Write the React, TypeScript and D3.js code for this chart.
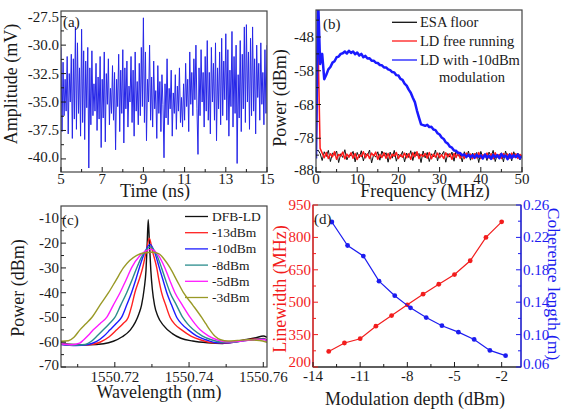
import React, { useEffect, useRef } from 'react';
import * as d3 from 'd3';

const W = 564;
const H = 411;
const FONT = '"Liberation Serif", "Times New Roman", Times, serif';

// ---- (a) time-domain trace ----
const timeStart = 5;
const timeStep = 0.05;
const amplitude = [
  -30.2, -37.6, -31.5, -36.2, -33.0, -35.8, -31.0, -37.8, -32.5, -35.0, -30.8, -38.2, -31.2, -36.5, -28.4, -37.4, -29.8, -36.0, -32.0, -38.0,
  -28.6, -36.8, -30.5, -38.3, -31.4, -35.5, -30.2, -40.8, -32.0, -37.0, -30.5, -36.2, -33.4, -35.8, -31.6, -37.5, -32.8, -36.5, -31.0, -39.0,
  -33.0, -36.4, -30.6, -38.5, -32.5, -35.2, -31.2, -37.0, -33.8, -36.0, -31.8, -36.6, -32.4, -39.2, -33.0, -35.4, -30.8, -37.6, -32.2, -36.0,
  -30.4, -38.6, -32.0, -35.6, -31.4, -37.2, -33.6, -35.0, -31.0, -36.8, -32.2, -38.0, -30.6, -35.8, -33.2, -37.0, -31.6, -36.2, -30.2, -35.4,
  -27.6, -36.8, -30.6, -38.4, -33.0, -35.0, -30.0, -36.6, -32.8, -37.2, -31.4, -35.6, -34.0, -38.2, -31.8, -36.0, -33.2, -37.6, -32.6, -35.2,
  -39.9, -33.4, -36.4, -31.2, -37.0, -33.8, -35.6, -32.2, -38.0, -34.2, -36.0, -32.6, -37.4, -33.6, -35.8, -32.0, -36.8, -34.6, -37.2, -33.4,
  -36.6, -31.6, -35.4, -33.0, -37.6, -30.6, -35.2, -32.4, -36.2, -31.2, -34.8, -30.0, -35.6, -39.6, -32.0, -36.2, -30.4, -35.0, -32.4, -37.2,
  -31.0, -35.8, -29.6, -36.6, -32.4, -37.8, -30.2, -35.0, -31.6, -36.6, -29.8, -38.4, -32.0, -35.6, -30.6, -37.0, -29.4, -36.2, -31.4, -34.8,
  -29.0, -36.6, -30.4, -38.0, -32.2, -35.4, -28.8, -37.2, -31.0, -36.0, -30.0, -40.4, -32.6, -36.4, -29.6, -37.6, -30.8, -35.6, -28.4, -36.8,
  -28.2, -35.0, -30.6, -37.4, -29.4, -36.2, -28.4, -35.8, -31.2, -37.8, -30.0, -34.6, -31.6, -36.6, -29.8, -35.2, -32.4, -37.0, -30.4, -36.0,
  -30.0,
];
const timeTicks = [5, 7, 9, 11, 13, 15];
const timeMinor = [6, 8, 10, 12, 14];
const ampTicks = [-40, -37.5, -35, -32.5, -30, -27.5];
const ampMinor = [-38.75, -36.25, -33.75, -31.25, -28.75];

// ---- (b) RF spectra, one value every 0.5 MHz from 0 MHz ----
const freqStep = 0.5;
const esaFloor = [
  -82.0, -81.5, -82.5,
  -84.6, -82.0, -83.4, -81.6, -84.9, -82.4, -83.0, -81.8, -85.2, -82.6, -83.7, -81.4, -84.4, -82.9, -83.2, -81.9, -85.0, -82.2, -83.8, -81.7,
  -84.7, -82.5, -83.1, -81.5, -85.3, -82.8, -83.6, -82.0, -84.5, -81.8, -83.3, -82.3, -85.1, -82.1, -83.9, -81.6, -84.8, -82.7, -83.4, -81.9,
  -85.0, -82.4, -83.7, -81.7, -84.6, -82.0, -83.2, -82.5, -85.2, -81.8, -83.8, -82.2, -84.9, -82.6, -83.5, -81.5, -84.7, -82.3, -83.0, -81.9,
  -85.1, -82.5, -83.6, -82.1, -84.8, -81.7, -83.3, -82.7, -85.0, -82.0, -83.9, -81.8, -84.5, -82.4, -83.1, -82.2, -85.2, -81.9, -83.7, -82.6,
  -84.6, -82.1, -83.4, -81.6, -84.9, -82.8, -83.2, -82.3, -85.0, -81.8, -83.6, -82.5, -84.7, -82.0, -83.8, -82.4, -84.4, -82.9,
];
const ldFreeRunning = [
  -83.5, -50.0, -81.0, -82.4,
  -83.8, -82.2, -84.0, -82.6, -83.5, -82.0, -84.2, -82.8, -83.3, -82.1, -84.1, -82.7, -83.6, -82.3, -83.9, -82.5, -84.3, -82.9, -83.4, -82.0,
  -83.8, -82.6, -84.0, -82.4, -83.2, -82.1, -84.2, -82.8, -83.7, -82.3, -83.9, -82.5, -84.1, -82.7, -83.3, -82.2, -84.0, -82.9, -83.6, -82.4,
  -83.8, -82.6, -84.2, -82.3, -83.5, -82.0, -84.0, -82.8, -83.4, -82.5, -83.9, -82.2, -84.1, -82.7, -83.6, -82.4, -83.8, -82.9, -84.0, -82.3,
  -83.5, -82.6, -84.2, -82.5, -83.7, -82.1, -83.9, -82.8, -84.0, -82.4, -83.3, -82.7, -84.1, -82.6, -83.8, -82.2, -84.0, -82.9, -83.5, -82.4,
  -83.9, -82.6, -84.1, -82.3, -83.6, -82.8, -84.0, -82.5, -83.4, -82.7, -83.9, -82.4, -83.7, -82.6, -84.0, -82.8, -83.3,
];
const ldModulated = [
  -84.0, -36.0, -56.0, -53.0, -60.5, -59.2, -57.6, -56.9, -55.6, -55.2,
  -54.0, -53.8, -53.0, -52.8, -52.3, -52.9, -52.1, -52.7, -52.3, -53.1,
  -52.6, -53.5, -53.0, -54.0, -53.6, -54.4, -54.3, -55.0, -55.0, -55.6,
  -55.7, -56.3, -56.4, -57.0, -57.0, -57.6, -57.8, -58.4, -58.5, -59.3,
  -59.4, -60.4, -60.7, -61.8, -62.4, -63.6, -64.5, -66.0, -67.3, -69.8,
  -71.9, -73.9, -74.1, -74.3, -74.0, -74.7, -74.6, -75.4, -75.6, -76.5,
  -76.9, -77.8, -78.2, -79.2, -79.6, -80.5, -80.8, -81.6, -81.7, -82.4,
  -82.4, -83.1, -82.8, -83.5, -82.9, -83.6, -83.0, -83.8, -82.9, -83.5,
  -83.1, -84.0, -82.8, -83.7, -83.2, -84.1, -82.9, -83.6, -83.0, -83.9,
  -82.7, -83.5, -83.1, -84.2, -82.9, -83.8, -83.0, -83.6, -82.8, -83.9,
  -83.3,
];
const freqTicks = [0, 10, 20, 30, 40, 50];
const freqMinor = [5, 15, 25, 35, 45];
const rfTicks = [-88, -78, -68, -58, -48];
const rfMinor = [-83, -73, -63, -53, -43];
const legendB = ['ESA floor', 'LD free running', 'LD with -10dBm'];

// ---- (c) optical spectra [wavelength nm, power dBm] ----
const dfbLd = [
  [1550.7055, -60.5], [1550.709, -60.9], [1550.713, -61.0], [1550.717, -60.6], [1550.7196, -59.6], [1550.722, -57.8],
  [1550.7242, -55.0], [1550.7255, -52.0], [1550.7265, -48.5], [1550.7272, -45.0], [1550.7279, -38.5], [1550.7284, -31.0],
  [1550.7287, -21.0], [1550.729, -10.5], [1550.7293, -19.0], [1550.7297, -31.0], [1550.7301, -38.5], [1550.7307, -45.0],
  [1550.7316, -49.5], [1550.7331, -53.2], [1550.7355, -56.5], [1550.7378, -58.4], [1550.741, -59.5], [1550.745, -60.2],
  [1550.749, -60.5], [1550.752, -59.9], [1550.755, -59.0], [1550.758, -58.2], [1550.76, -57.5], [1550.761, -58.0],
];
const mod13 = [
  [1550.7055, -60.8], [1550.7095, -61.2], [1550.713, -61.0], [1550.716, -60.0], [1550.7185, -57.8], [1550.7205, -55.0],
  [1550.7222, -52.5], [1550.7236, -50.0], [1550.7246, -45.0], [1550.7254, -40.0], [1550.7265, -35.0], [1550.7275, -30.0],
  [1550.7285, -23.0], [1550.7293, -18.0], [1550.7301, -23.0], [1550.7313, -30.0], [1550.7319, -35.0], [1550.7326, -40.0],
  [1550.7337, -45.0], [1550.7349, -50.0], [1550.7362, -52.8], [1550.738, -55.0], [1550.7405, -57.5], [1550.743, -59.0],
  [1550.7465, -60.2], [1550.7505, -60.3], [1550.7545, -59.3], [1550.758, -58.7], [1550.7602, -58.5], [1550.761, -59.2],
];
const mod10 = [
  [1550.7055, -60.9], [1550.7095, -61.3], [1550.7125, -61.0], [1550.715, -59.8], [1550.717, -57.6], [1550.7187, -55.0],
  [1550.7203, -52.5], [1550.7218, -50.0], [1550.7232, -45.0], [1550.7245, -40.0], [1550.7256, -35.0], [1550.7266, -30.0],
  [1550.728, -24.0], [1550.7295, -20.5], [1550.7308, -24.0], [1550.732, -30.0], [1550.733, -35.0], [1550.734, -40.0],
  [1550.7353, -45.0], [1550.7367, -50.0], [1550.738, -52.6], [1550.7398, -55.0], [1550.742, -57.4], [1550.7445, -59.0],
  [1550.7475, -60.2], [1550.751, -60.2], [1550.7545, -59.4], [1550.758, -58.9], [1550.7602, -58.7], [1550.761, -59.4],
];
const mod8 = [
  [1550.7055, -60.7], [1550.709, -61.2], [1550.712, -60.9], [1550.7135, -59.8], [1550.7152, -57.5], [1550.7169, -55.0],
  [1550.7185, -52.5], [1550.72, -50.0], [1550.7216, -45.0], [1550.7232, -40.0], [1550.7246, -35.0], [1550.7259, -30.0],
  [1550.7276, -24.5], [1550.7297, -21.5], [1550.7312, -24.5], [1550.7326, -30.0], [1550.7337, -35.0], [1550.7349, -40.0],
  [1550.7366, -45.0], [1550.7383, -50.0], [1550.7396, -52.6], [1550.7412, -55.0], [1550.7435, -57.4], [1550.746, -59.0],
  [1550.749, -60.0], [1550.752, -60.0], [1550.755, -59.3], [1550.7585, -58.9], [1550.7603, -58.8], [1550.761, -59.5],
];
const mod5 = [
  [1550.7055, -60.6], [1550.7085, -61.0], [1550.7105, -60.4], [1550.7115, -59.2], [1550.7128, -57.3], [1550.7142, -55.0],
  [1550.716, -52.5], [1550.7178, -50.0], [1550.7196, -45.0], [1550.7214, -40.0], [1550.723, -35.0], [1550.7245, -30.0],
  [1550.7268, -25.0], [1550.7298, -22.5], [1550.7318, -25.0], [1550.7335, -30.0], [1550.7348, -35.0], [1550.7362, -40.0],
  [1550.7382, -45.0], [1550.7403, -50.0], [1550.7416, -52.6], [1550.743, -55.0], [1550.7452, -57.4], [1550.7475, -59.0],
  [1550.75, -59.8], [1550.753, -59.7], [1550.756, -59.2], [1550.759, -59.0], [1550.7605, -59.0], [1550.761, -59.6],
];
const mod3 = [
  [1550.7055, -59.6], [1550.7075, -59.4], [1550.709, -58.0], [1550.7106, -55.0], [1550.7122, -52.5], [1550.7138, -50.0],
  [1550.716, -45.0], [1550.7183, -40.0], [1550.7203, -35.0], [1550.7223, -30.0], [1550.724, -27.0], [1550.7258, -25.0],
  [1550.728, -23.9], [1550.73, -23.7], [1550.7318, -24.2], [1550.7333, -26.5], [1550.7349, -30.0], [1550.7367, -35.0],
  [1550.7385, -40.0], [1550.741, -45.0], [1550.7434, -50.0], [1550.7445, -52.5], [1550.7456, -55.0], [1550.747, -57.6],
  [1550.7485, -59.0], [1550.7505, -59.5], [1550.753, -59.3], [1550.756, -59.0], [1550.759, -59.3], [1550.761, -60.0],
];
const legendC = ['DFB-LD', '-13dBm', '-10dBm', '-8dBm', '-5dBm', '-3dBm'];
const colorsC = ['#111111', '#ff2020', '#1c1cff', '#2a8c8c', '#ff1aff', '#999926'];
const waveTicks = [1550.72, 1550.74, 1550.76];
const waveMinor = [1550.71, 1550.73, 1550.75];
const powTicks = [-70, -60, -50, -40, -30, -20, -10];
const powMinor = [-65, -55, -45, -35, -25, -15];

// ---- (d) linewidth and coherence length ----
const depthLw = [-13, -12, -11, -10, -9, -8, -7, -6, -5, -4, -3, -2];
const linewidth = [272, 311, 331, 389, 438, 488, 537, 583, 628, 692, 800, 872];
const depthCoh = [-12.8, -11.8, -10.8, -9.8, -8.8, -7.8, -6.8, -5.8, -4.75, -3.75, -2.75, -1.75];
const coherence = [0.239, 0.21, 0.197, 0.166, 0.148, 0.133, 0.121, 0.111, 0.103, 0.094, 0.0805, 0.074];
const depthTicks = [-14, -11, -8, -5, -2];
const depthMinor = [-12.5, -9.5, -6.5, -3.5];
const lwTicks = [200, 350, 500, 650, 800, 950];
const lwMinor = [275, 425, 575, 725, 875];
const cohTicks = [0.06, 0.1, 0.14, 0.18, 0.22, 0.26];
const cohMinor = [0.08, 0.12, 0.16, 0.2, 0.24];

const RED = '#f21d1d';
const BLUE = '#1c1cf0';
const INK = '#1a1a1a';

export default function App() {
  const svgRef = useRef(null);

  useEffect(() => {
    if (!svgRef.current) return;
    const svg = d3.select(svgRef.current);
    svg.selectAll('*').remove();
    const defs = svg.append('defs');

    const boxA = { l: 61, t: 11, r: 267, b: 172 };
    const boxB = { l: 316, t: 10, r: 522, b: 172 };
    const boxC = { l: 61, t: 206, r: 267, b: 367 };
    const boxD = { l: 313, t: 205, r: 521, b: 367 };

    const clip = (id, box) => {
      defs.append('clipPath').attr('id', id).append('rect')
        .attr('x', box.l).attr('y', box.t).attr('width', box.r - box.l).attr('height', box.b - box.t);
    };

    const frame = (box, stroke = '#444') => {
      svg.append('rect')
        .attr('x', box.l).attr('y', box.t)
        .attr('width', box.r - box.l).attr('height', box.b - box.t)
        .attr('fill', 'none').attr('stroke', stroke).attr('stroke-width', 1.2);
    };

    const bottomTicks = (x, box, major, minor, fmt, dy = 13) => {
      const g = svg.append('g');
      major.forEach((v) => {
        g.append('line').attr('x1', x(v)).attr('x2', x(v)).attr('y1', box.b).attr('y2', box.b - 5)
          .attr('stroke', INK).attr('stroke-width', 1);
        g.append('text').attr('x', x(v)).attr('y', box.b + dy)
          .attr('text-anchor', 'middle').attr('font-size', 15).attr('fill', INK).text(fmt(v));
      });
      minor.forEach((v) => {
        g.append('line').attr('x1', x(v)).attr('x2', x(v)).attr('y1', box.b).attr('y2', box.b - 3)
          .attr('stroke', INK).attr('stroke-width', 1);
      });
    };

    const sideTicks = (y, box, side, major, minor, fmt, color = INK, lift = 2) => {
      const g = svg.append('g');
      const x0 = side === 'left' ? box.l : box.r;
      const dir = side === 'left' ? 1 : -1;
      major.forEach((v, i) => {
        g.append('line').attr('x1', x0).attr('x2', x0 + dir * 5).attr('y1', y(v)).attr('y2', y(v))
          .attr('stroke', color).attr('stroke-width', 1);
        // lowest label sits a touch higher so it clears the x tick labels
        const up = i === 0 ? lift : 0;
        g.append('text')
          .attr('x', side === 'left' ? x0 - 2 : x0 + 2)
          .attr('y', y(v) + 5 - up)
          .attr('text-anchor', side === 'left' ? 'end' : 'start')
          .attr('font-size', 15).attr('fill', color).text(fmt(v));
      });
      minor.forEach((v) => {
        g.append('line').attr('x1', x0).attr('x2', x0 + dir * 3).attr('y1', y(v)).attr('y2', y(v))
          .attr('stroke', color).attr('stroke-width', 1);
      });
    };

    const title = (text, x, y, rotate = 0, color = INK, size = 18) => {
      svg.append('text')
        .attr('transform', `translate(${x}, ${y}) rotate(${rotate})`)
        .attr('text-anchor', 'middle').attr('font-size', size).attr('fill', color).text(text);
    };

    const tag = (text, x, y) => {
      svg.append('text').attr('x', x).attr('y', y).attr('font-size', 15).attr('fill', INK).text(text);
    };

    // ===== (a) =====
    const xA = d3.scaleLinear().domain([5, 15]).range([boxA.l, boxA.r]);
    const yA = d3.scaleLinear().domain([-41.15, -27.0]).range([boxA.b, boxA.t]);
    clip('clipA', boxA);
    svg.append('path')
      .datum(amplitude)
      .attr('clip-path', 'url(#clipA)')
      .attr('fill', 'none').attr('stroke', '#2626e8').attr('stroke-width', 1)
      .attr('d', d3.line().x((d, i) => xA(timeStart + i * timeStep)).y((d) => yA(d)));
    frame(boxA);
    bottomTicks(xA, boxA, timeTicks, timeMinor, (v) => String(v), 12);
    sideTicks(yA, boxA, 'left', ampTicks, ampMinor, (v) => v.toFixed(1));
    title('Amplitude (mV)', 17, 84, -90);
    title('Time (ns)', 155, 197);
    tag('(a)', 63, 27);

    // ===== (b) =====
    const xB = d3.scaleLinear().domain([0, 50]).range([boxB.l, boxB.r]);
    const yB = d3.scaleLinear().domain([-88, -40]).range([boxB.b, boxB.t]);
    clip('clipB', boxB);
    const lineB = d3.line().x((d, i) => xB(i * freqStep)).y((d) => yB(d));
    [
      { data: esaFloor, color: '#111111', w: 1 },
      { data: ldFreeRunning, color: '#ff1a1a', w: 1.5 },
      { data: ldModulated, color: '#1a1aff', w: 2.5 },
    ].forEach((s) => {
      svg.append('path').datum(s.data)
        .attr('clip-path', 'url(#clipB)')
        .attr('fill', 'none').attr('stroke', s.color).attr('stroke-width', s.w)
        .attr('stroke-linejoin', 'round')
        .attr('d', lineB);
    });
    frame(boxB);
    bottomTicks(xB, boxB, freqTicks, freqMinor, (v) => String(v), 12);
    sideTicks(yB, boxB, 'left', rfTicks, rfMinor, (v) => String(v));
    title('Power (dBm)', 286, 98, -90);
    title('Frequency (MHz)', 425, 197);
    tag('(b)', 323, 29);
    const legB = svg.append('g');
    const legBColors = ['#111111', '#ff1a1a', '#1a1aff'];
    const legBRows = [22.3, 41, 60];
    legendB.forEach((name, i) => {
      legB.append('line').attr('x1', 392).attr('x2', 417).attr('y1', legBRows[i]).attr('y2', legBRows[i])
        .attr('stroke', legBColors[i]).attr('stroke-width', 1.3);
      legB.append('text').attr('x', 420).attr('y', legBRows[i] + 5)
        .attr('font-size', 14.5).attr('fill', INK).text(name);
    });
    legB.append('text').attr('x', 439).attr('y', 82).attr('font-size', 14.5).attr('fill', INK).text('modulation');

    // ===== (c) =====
    const xC = d3.scaleLinear().domain([1550.7055, 1550.761]).range([boxC.l, boxC.r]);
    const yC = d3.scaleLinear().domain([-70, -5]).range([boxC.b, boxC.t]);
    clip('clipC', boxC);
    const lineC = d3.line().x((d) => xC(d[0])).y((d) => yC(d[1])).curve(d3.curveMonotoneX);
    [dfbLd, mod13, mod10, mod8, mod5, mod3].forEach((data, i) => {
      svg.append('path').datum(data)
        .attr('clip-path', 'url(#clipC)')
        .attr('fill', 'none').attr('stroke', colorsC[i]).attr('stroke-width', 1.4)
        .attr('d', lineC);
    });
    frame(boxC);
    bottomTicks(xC, boxC, waveTicks, waveMinor, (v) => v.toFixed(2), 15);
    sideTicks(yC, boxC, 'left', powTicks, powMinor, (v) => String(v));
    title('Power (dBm)', 24, 288, -90);
    title('Wavelength (nm)', 159, 398);
    tag('(c)', 62, 225);
    const legC = svg.append('g');
    legendC.forEach((name, i) => {
      const yy = 216.5 + i * 16.2;
      legC.append('line').attr('x1', 185).attr('x2', 208).attr('y1', yy).attr('y2', yy)
        .attr('stroke', colorsC[i]).attr('stroke-width', 1.3);
      legC.append('text').attr('x', 212).attr('y', yy + 4.5)
        .attr('font-size', 13.5).attr('fill', INK).text(name);
    });

    // ===== (d) =====
    const xD = d3.scaleLinear().domain([-14, -0.77]).range([boxD.l, boxD.r]);
    const yDl = d3.scaleLinear().domain([200, 950]).range([boxD.b, boxD.t]);
    const yDr = d3.scaleLinear().domain([0.06, 0.26]).range([boxD.b, boxD.t]);
    frame(boxD, '#666');
    // coloured spines
    svg.append('line').attr('x1', boxD.l).attr('x2', boxD.l).attr('y1', boxD.t).attr('y2', boxD.b)
      .attr('stroke', RED).attr('stroke-width', 1.3);
    svg.append('line').attr('x1', boxD.r).attr('x2', boxD.r).attr('y1', boxD.t).attr('y2', boxD.b)
      .attr('stroke', BLUE).attr('stroke-width', 1.3);
    svg.append('line').attr('x1', boxD.l).attr('x2', boxD.r).attr('y1', boxD.b).attr('y2', boxD.b)
      .attr('stroke', INK).attr('stroke-width', 1.2);

    const lwPts = depthLw.map((d, i) => [d, linewidth[i]]);
    const cohPts = depthCoh.map((d, i) => [d, coherence[i]]);
    svg.append('path').datum(lwPts)
      .attr('fill', 'none').attr('stroke', RED).attr('stroke-width', 1.2)
      .attr('d', d3.line().x((d) => xD(d[0])).y((d) => yDl(d[1])));
    svg.append('g').selectAll('circle').data(lwPts).enter().append('circle')
      .attr('cx', (d) => xD(d[0])).attr('cy', (d) => yDl(d[1])).attr('r', 2.4).attr('fill', RED);
    svg.append('path').datum(cohPts)
      .attr('fill', 'none').attr('stroke', BLUE).attr('stroke-width', 1.2)
      .attr('d', d3.line().x((d) => xD(d[0])).y((d) => yDr(d[1])));
    svg.append('g').selectAll('circle').data(cohPts).enter().append('circle')
      .attr('cx', (d) => xD(d[0])).attr('cy', (d) => yDr(d[1])).attr('r', 2.4).attr('fill', BLUE);

    bottomTicks(xD, boxD, depthTicks, depthMinor, (v) => String(v), 14);
    sideTicks(yDl, boxD, 'left', lwTicks, lwMinor, (v) => String(v), RED, 5);
    sideTicks(yDr, boxD, 'right', cohTicks, cohMinor, (v) => v.toFixed(2), BLUE, 3);
    title('Linewidth (MHz)', 286, 289, -90, RED);
    title('Coherence length (m)', 548, 284, 90, BLUE, 17.5);
    title('Modulation depth (dBm)', 415, 405);
    tag('(d)', 314, 224);
  }, []);

  return (
    <div style={{ position: 'fixed', left: 0, top: 0, width: W, height: H, background: '#fff' }}>
      <svg ref={svgRef} width={W} height={H} style={{ display: 'block', fontFamily: FONT }} />
    </div>
  );
}
